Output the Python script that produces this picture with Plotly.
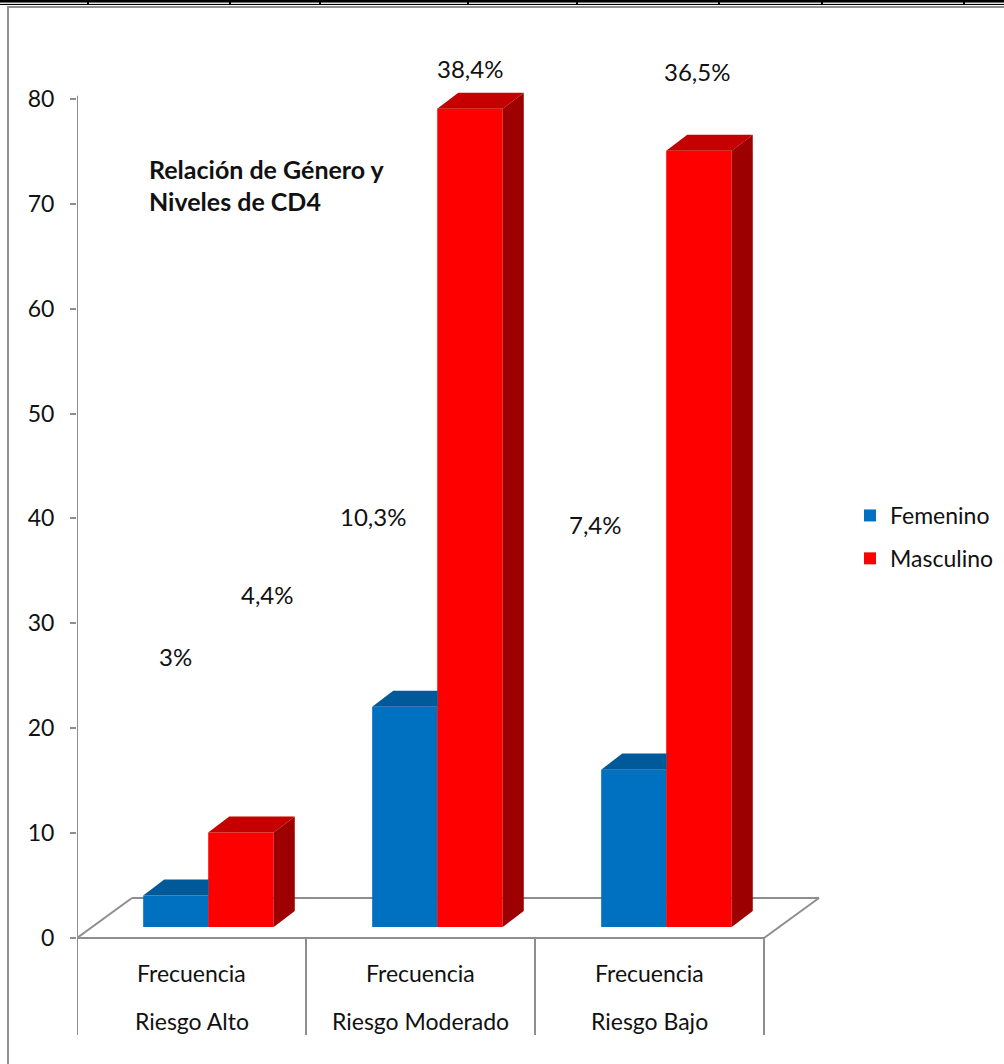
import plotly.graph_objects as go

# ---- data ----
categories_top = ["Frecuencia", "Frecuencia", "Frecuencia"]
categories_bottom = ["Riesgo Alto", "Riesgo Moderado", "Riesgo Bajo"]
femenino = [3, 21, 15]
masculino = [9, 78, 74]
femenino_pct = ["3%", "10,3%", "7,4%"]
masculino_pct = ["4,4%", "38,4%", "36,5%"]
y_ticks = [0, 10, 20, 30, 40, 50, 60, 70, 80]

# ---- geometry (axis units) ----
W, H = 1004, 1064
X0_PX, UNIT_X = 77, 229.0      # left wall position, pixels per category
Y0_PX, UNIT_Y = 938, 10.49     # zero line position, pixels per unit

BAR_W = 0.286
OFF_F, OFF_M = 0.432, 0.716
BASE = 1.05                    # bars stand slightly behind the front edge of the floor
DX, DY = 0.092, 1.53           # bar depth
FLOOR_DX, FLOOR_DY = 0.24, 3.81
AXIS_BOTTOM = -9.25
AXIS_TOP = 80.3

# label anchors (x, y in axis units)
fem_label_pos = [(0.428, 26.8), (1.293, 40.2), (2.262, 39.4)]
mas_label_pos = [(0.834, 32.7), (1.716, 82.9), (2.707, 82.6)]

BLUE, BLUE_TOP = "#0070C0", "#005A9A"
RED, RED_TOP, RED_SIDE = "#FF0000", "#C40000", "#9C0000"
GRID = "#8E8E8E"
FONT = "Lato"
TXT = "#111"
FS = 23

fig = go.Figure()

n = len(categories_bottom)
fx = [i + OFF_F for i in range(n)]
mx = [i + OFF_M for i in range(n)]

# front faces
fig.add_trace(go.Bar(x=fx, y=femenino, base=BASE, width=BAR_W, name="Femenino",
                     marker=dict(color=BLUE, line=dict(width=0)),
                     legendgroup="f", hoverinfo="skip"))
fig.add_trace(go.Bar(x=mx, y=masculino, base=BASE, width=BAR_W, name="Masculino",
                     marker=dict(color=RED, line=dict(width=0)),
                     legendgroup="m", hoverinfo="skip"))


def poly(xs, ys, color):
    fig.add_trace(go.Scatter(x=xs + [xs[0]], y=ys + [ys[0]], mode="lines",
                             fill="toself", fillcolor=color,
                             line=dict(width=0, color=color),
                             showlegend=False, hoverinfo="skip"))


# top faces of the feminine bars (the part behind the masculine bar is hidden)
for cx, v in zip(fx, femenino):
    x0, x1 = cx - BAR_W / 2, cx + BAR_W / 2
    top = BASE + v
    poly([x0, x1, x1, x0 + DX], [top, top, top + DY, top + DY], BLUE_TOP)

# top and side faces of the masculine bars
for cx, v in zip(mx, masculino):
    x0, x1 = cx - BAR_W / 2, cx + BAR_W / 2
    top = BASE + v
    poly([x0, x1, x1 + DX, x0 + DX], [top, top, top + DY, top + DY], RED_TOP)
    poly([x1, x1 + DX, x1 + DX, x1], [BASE, BASE + DY, top + DY, top], RED_SIDE)

# floor, walls and category dividers
shapes = []
line = dict(color=GRID, width=2)
floor_lines = [
    (0, 0, n, 0),
    (0, 0, FLOOR_DX, FLOOR_DY),
    (FLOOR_DX, FLOOR_DY, n + FLOOR_DX, FLOOR_DY),
    (n, 0, n + FLOOR_DX, FLOOR_DY),
    (0, AXIS_BOTTOM, 0, AXIS_TOP),
]
for i in range(1, n + 1):
    floor_lines.append((i, 0, i, AXIS_BOTTOM))
for x0, y0, x1, y1 in floor_lines:
    shapes.append(dict(type="line", xref="x", yref="y", x0=x0, y0=y0, x1=x1, y1=y1,
                       line=line, layer="below"))

# page frame: document table rule and chart border
shapes.append(dict(type="rect", xref="paper", yref="paper", x0=0, x1=1,
                   y0=1 - 5 / H, y1=1, fillcolor="#DCE2EA", line=dict(width=0)))
shapes.append(dict(type="rect", xref="paper", yref="paper", x0=0, x1=1,
                   y0=1 - 2.5 / H, y1=1, fillcolor="#000000", line=dict(width=0)))
shapes.append(dict(type="rect", xref="paper", yref="paper", x0=0, x1=1,
                   y0=1 - 5 / H, y1=1 - 4 / H, fillcolor="#000000", line=dict(width=0)))
for px in [88, 230, 320, 468, 577, 719, 822, 964]:
    shapes.append(dict(type="rect", xref="paper", yref="paper", x0=(px - 1) / W, x1=(px + 1) / W,
                       y0=1 - 5 / H, y1=1, fillcolor="#000000", line=dict(width=0)))
shapes.append(dict(type="rect", xref="paper", yref="paper", x0=8 / W, x1=1.02,
                   y0=-0.02, y1=1 - 7 / H, line=dict(color="#909090", width=2)))

annotations = []
for i in range(n):
    annotations.append(dict(x=i + 0.5, y=(Y0_PX - 973) / UNIT_Y, xref="x", yref="y",
                            text=categories_top[i], showarrow=False,
                            font=dict(size=FS, color=TXT, family=FONT)))
    annotations.append(dict(x=i + 0.5, y=(Y0_PX - 1021) / UNIT_Y, xref="x", yref="y",
                            text=categories_bottom[i], showarrow=False,
                            font=dict(size=FS, color=TXT, family=FONT)))
for (x, y), t in zip(fem_label_pos, femenino_pct):
    annotations.append(dict(x=x, y=y, xref="x", yref="y", text=t, showarrow=False,
                            font=dict(size=24, color=TXT, family=FONT)))
for (x, y), t in zip(mas_label_pos, masculino_pct):
    annotations.append(dict(x=x, y=y, xref="x", yref="y", text=t, showarrow=False,
                            font=dict(size=24, color=TXT, family=FONT)))
for txt, py in [("<b>Relación de Género y</b>", 169), ("<b>Niveles de CD4</b>", 201)]:
    annotations.append(dict(x=147 / W, y=1 - py / H, xref="paper", yref="paper",
                            xanchor="left", yanchor="middle", text=txt, showarrow=False,
                            font=dict(size=25, color=TXT, family=FONT)))

fig.update_layout(
    width=W, height=H,
    margin=dict(l=0, r=0, t=0, b=0),
    paper_bgcolor="white", plot_bgcolor="white",
    barmode="overlay",
    showlegend=True,
    legend=dict(x=850 / W, y=1 - 494 / H, xanchor="left", yanchor="top",
                font=dict(size=FS, color=TXT, family=FONT),
                tracegroupgap=10, bgcolor="rgba(0,0,0,0)"),
    xaxis=dict(domain=[X0_PX / W, 1], range=[0, (W - X0_PX) / UNIT_X],
               showgrid=False, zeroline=False, showline=False, showticklabels=False,
               fixedrange=True),
    yaxis=dict(domain=[0, 1], range=[-(H - Y0_PX) / UNIT_Y, Y0_PX / UNIT_Y],
               tickvals=y_ticks, ticks="outside", ticklen=6, tickwidth=2, tickcolor=GRID,
               ticklabelstandoff=11,
               showgrid=False, zeroline=False, showline=False,
               tickfont=dict(size=FS, color=TXT, family=FONT),
               fixedrange=True),
    shapes=shapes,
    annotations=annotations,
)

fig.write_html("out.html")
